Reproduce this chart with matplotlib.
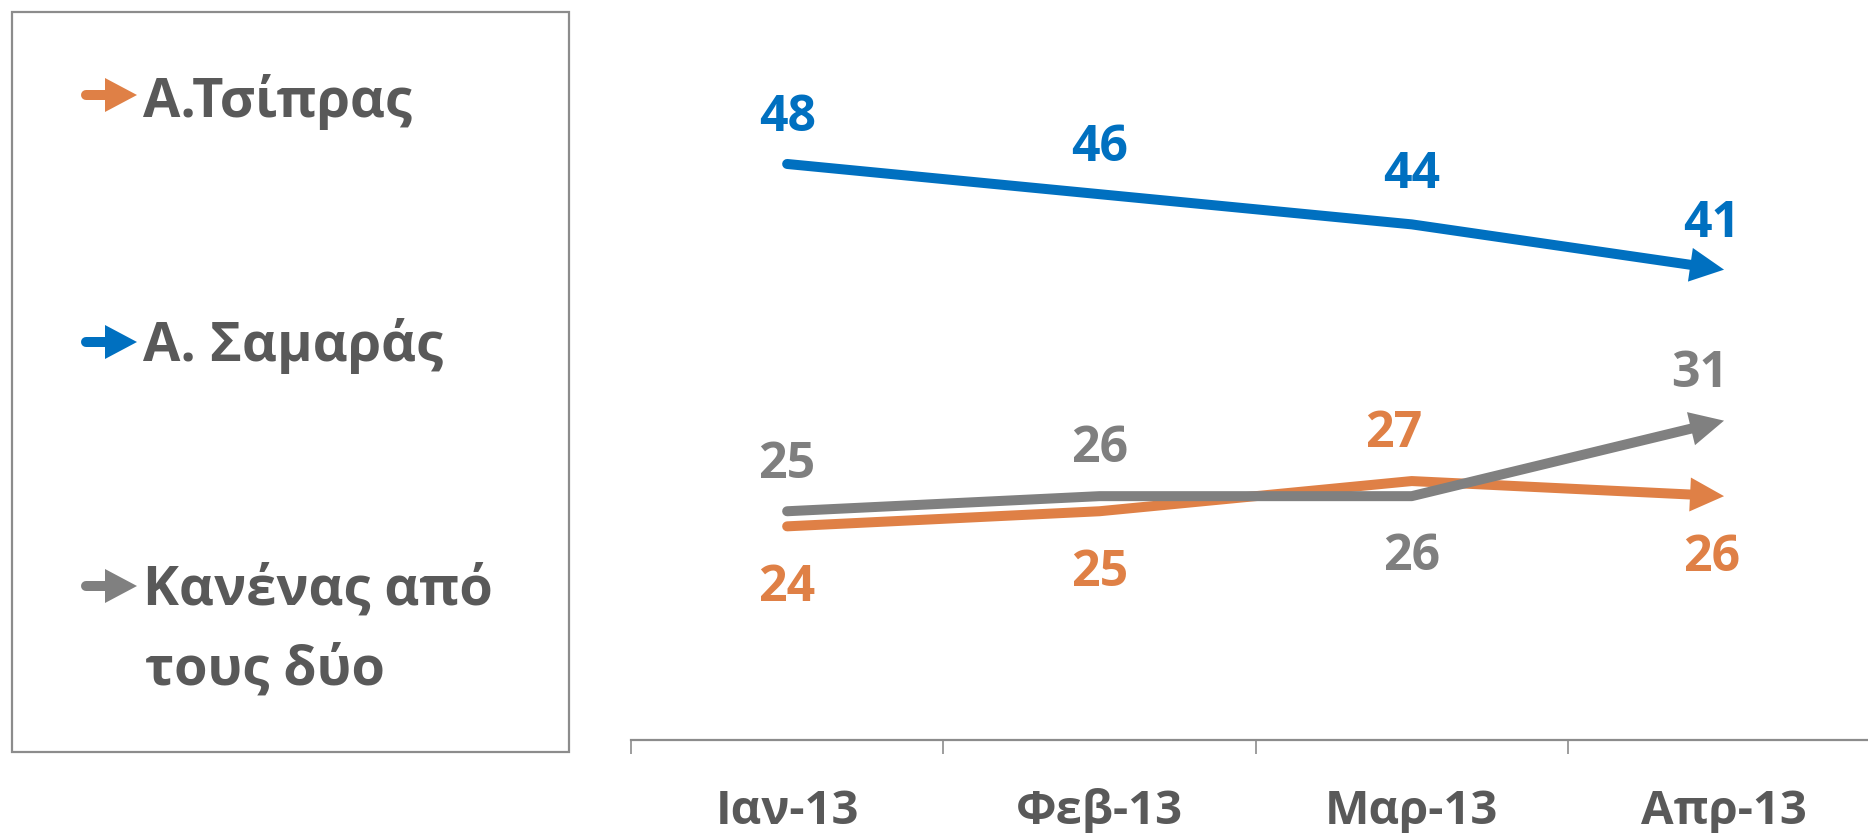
import numpy as np
import matplotlib
matplotlib.use('Agg')
import matplotlib.pyplot as plt
from matplotlib.patches import Polygon, Rectangle

# Data
months = ['Ιαν-13', 'Φεβ-13', 'Μαρ-13', 'Απρ-13']
tsipras = [24, 25, 27, 26]
samaras = [48, 46, 44, 41]
neither = [25, 26, 26, 31]
series_names = [['Α.Τσίπρας'], ['Α. Σαμαράς'], ['Κανένας από', 'τους δύο']]

# Styles
ORANGE = '#DF8046'
BLUE = '#0070C0'
GRAY = '#808080'
GRAY_TXT = '#7F7F7F'
DARK_TXT = '#595959'
AXIS = '#8C8C8C'
FONT = ['Open Sans', 'DejaVu Sans']
FS = 36
FS_TICK = 34
FS_LEG = 39
HALF_CAP = 18  # px, half cap height for centring digits
LW_PX = 10
plt.rcParams['font.family'] = FONT

W, H = 1868, 833
fig = plt.figure(figsize=(W / 100, H / 100), dpi=100)

# main plot area (pixel layout of the reference)
ax_left, ax_bottom_px, cat_w = 631, 740, 312.3
ax = fig.add_axes([ax_left / W, 1 - ax_bottom_px / H, 4 * cat_w / W, ax_bottom_px / H])
ax.set_xlim(-0.5, 3.5)
ax.set_ylim(9.85, 58.86)
for s in ['top', 'right', 'left']:
    ax.spines[s].set_visible(False)
ax.spines['bottom'].set_color(AXIS)
ax.spines['bottom'].set_linewidth(1.6)
ax.set_yticks([])
ax.set_xticks([-0.5, 0.5, 1.5, 2.5])
ax.set_xticklabels([])
ax.tick_params(axis='x', length=10, width=1.2, color=AXIS, direction='out')
x = np.arange(len(months))
for i, m in enumerate(months):
    ax.text(x[i], -84 / ax_bottom_px, m, transform=ax.get_xaxis_transform(),
            ha='center', va='baseline', fontsize=FS_TICK, fontweight='bold', color=DARK_TXT)


def arrow_line(ax, xs, ys, color, head_len=34, head_w=34):
    pts = ax.transData.transform(np.column_stack([xs, ys]))
    tip, prev = pts[-1], pts[-2]
    d = (tip - prev) / np.hypot(*(tip - prev))
    n = np.array([-d[1], d[0]])
    base = tip - d * head_len
    line_pts = np.vstack([pts[:-1], base + d * 2])
    inv = ax.transData.inverted()
    lp = inv.transform(line_pts)
    ax.plot(lp[:, 0], lp[:, 1], color=color, lw=LW_PX * 0.72,
            solid_capstyle='round', solid_joinstyle='round', clip_on=False)
    head = np.array([tip, base + n * head_w / 2, base - n * head_w / 2])
    ax.add_patch(Polygon(inv.transform(head), closed=True, facecolor=color,
                         edgecolor='none', clip_on=False))


# label offsets in px: (dx, centre offset upward)
lab_style = {
    'tsipras': ([0, 0, -18, -12], [-57, -57, 52, -57]),
    'samaras': ([0, 0, 0, -12], [51, 51, 54, 51]),
    'neither': ([0, 0, 0, -24], [51, 52, -56, 52]),
}

for key, vals, col, tcol in [('tsipras', tsipras, ORANGE, ORANGE),
                             ('neither', neither, GRAY, GRAY_TXT),
                             ('samaras', samaras, BLUE, BLUE)]:
    arrow_line(ax, x, vals, col)
    dxs, dys = lab_style[key]
    for xi, v, dx, dy in zip(x, vals, dxs, dys):
        ax.annotate(str(v), (xi, v), xytext=(dx, dy - HALF_CAP), textcoords='offset pixels',
                    ha='center', va='baseline', fontsize=FS, fontweight='bold', color=tcol)

# legend panel drawn in pixel coordinates
lax = fig.add_axes([0, 0, 1, 1])
lax.set_xlim(0, W)
lax.set_ylim(H, 0)
lax.axis('off')
lax.add_patch(Rectangle((12, 12), 557, 740, fill=False, edgecolor=AXIS, lw=1.6))

leg_y = [95, 342, 586]
leg_base = [117, 361, 605]
for lines, col, y, yb in zip(series_names, [ORANGE, BLUE, GRAY], leg_y, leg_base):
    lax.plot([86, 107], [y, y], color=col, lw=LW_PX * 0.72, solid_capstyle='round')
    lax.add_patch(Polygon([[105, y - 17], [105, y + 17], [137, y]], closed=True,
                          facecolor=col, edgecolor='none'))
    for k, line in enumerate(lines):
        lax.text(143 if k == 0 else 145, yb + 80 * k, line, ha='left', va='baseline',
                 fontsize=FS_LEG, fontweight='bold', color=DARK_TXT)

fig.savefig('out.png', dpi=100)
